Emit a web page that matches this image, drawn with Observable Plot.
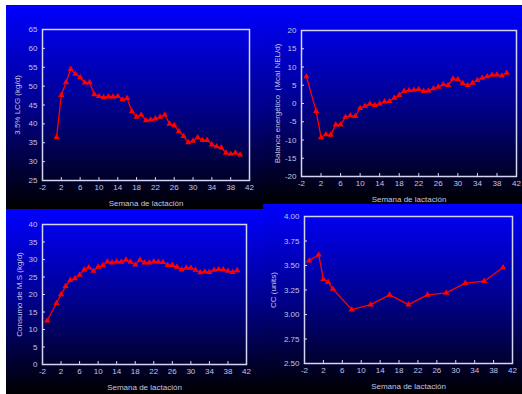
<!DOCTYPE html>
<html>
<head>
<meta charset="utf-8">
<script src="https://cdn.jsdelivr.net/npm/d3@7"></script>
<script src="https://cdn.jsdelivr.net/npm/@observablehq/plot@0.6"></script>
<style>
  body { margin: 0; background: #fff; }
  #wrap { position: relative; width: 522px; height: 394px; overflow: hidden; background: #fff; }
  .panel { position: absolute; }
</style>
</head>
<body>
<div id="wrap"></div>
<script>
// ---- Data ----
const xTicks = [-2, 2, 6, 10, 14, 18, 22, 26, 30, 34, 38, 42];

const lcgWeeks = [1,2,3,4,5,6,7,8,9,10,11,12,13,14,15,16,17,18,19,20,21,22,23,24,25,26,27,28,29,30,31,32,33,34,35,36,37,38,39,40];
const lcgValues = [36.5,47.6,51.0,54.5,53.2,52.3,50.9,51.0,47.8,47.3,47.0,47.2,47.2,47.3,46.4,46.8,43.3,41.8,42.4,40.9,41.1,41.4,41.8,42.4,40.0,39.6,38.0,36.7,35.1,35.5,36.4,35.7,35.7,34.5,34.0,33.7,32.3,32.0,32.3,31.8];
const lcgTicks = [25, 30, 35, 40, 45, 50, 55, 60, 65];

const balWeeks = [-1,1,2,3,4,5,6,7,8,9,10,11,12,13,14,15,16,17,18,19,20,21,22,23,24,25,26,27,28,29,30,31,32,33,34,35,36,37,38,39,40];
const balValues = [7.4,-2.1,-9.3,-8.5,-8.6,-5.8,-5.8,-3.7,-3.3,-3.5,-1.3,-0.7,-0.1,-0.5,-0.1,0.5,0.6,1.5,2.3,3.4,3.6,3.7,3.9,3.4,3.5,4.1,4.5,5.2,5.0,6.8,6.6,5.5,5.0,5.6,6.4,7.0,7.4,7.8,7.9,7.6,8.4];
const balTicks = [-20, -15, -10, -5, 0, 5, 10, 15, 20];

const dmiWeeks = [-1,1,2,3,4,5,6,7,8,9,10,11,12,13,14,15,16,17,18,19,20,21,22,23,24,25,26,27,28,29,30,31,32,33,34,35,36,37,38,39,40];
const dmiValues = [12.5,17.5,20.0,22.4,24.1,24.6,25.6,27.1,27.7,26.7,27.9,28.3,29.4,29.1,29.4,29.3,29.9,29.3,28.5,29.9,29.1,29.1,29.4,29.3,29.2,28.4,28.4,27.9,27.1,27.6,27.6,27.0,26.3,26.5,26.4,27.0,27.2,27.1,26.7,26.4,26.9];
const dmiTicks = [0, 5, 10, 15, 20, 25, 30, 35, 40];

const ccWeeks = [-1, 1, 2, 3, 4, 8, 12, 16, 20, 24, 28, 32, 36, 40];
const ccValues = [3.55, 3.61, 3.36, 3.33, 3.26, 3.05, 3.10, 3.20, 3.10, 3.20, 3.22, 3.32, 3.34, 3.48];
const ccTicks = [2.50, 2.75, 3.00, 3.25, 3.50, 3.75, 4.00];

const xLabel = "Semana de lactación";

// ---- Panels ----
const frameColor = "#d4d4f4";
const textColor = "#c4c4e4";
const red = "#ff0000";
const intFmt = d => String(d);
const ccFmt = d => d.toFixed(2);

function panel({left, top, width, height, m, weeks, values, yDomain, yTicks, yLabel, yFmt, yLabOff, xLabOff}) {
  const data = weeks.map((w, i) => ({w, v: values[i]}));
  const chart = Plot.plot({
    width, height,
    marginLeft: m[0], marginRight: m[1], marginTop: m[2], marginBottom: m[3],
    style: {
      background: "linear-gradient(to bottom, #0000ff 0%, #00008c 50%, #000000 100%)",
      color: textColor,
      fontFamily: "'Liberation Sans', Arial, sans-serif",
      fontSize: "8px"
    },
    x: {domain: [-2, 42]},
    y: {domain: yDomain},
    marks: [
      Plot.axisX({ticks: xTicks, tickSize: -3, tickPadding: 7, stroke: frameColor, tickFormat: intFmt,
        label: xLabel, labelAnchor: "center", labelArrow: "none", labelOffset: xLabOff, fontSize: 8}),
      Plot.axisY({ticks: yTicks, tickSize: -3, tickPadding: 8, stroke: frameColor, tickFormat: yFmt,
        label: yLabel, labelAnchor: "center", labelArrow: "none", labelOffset: yLabOff, fontSize: 8}),
      Plot.frame({stroke: frameColor, strokeWidth: 1.5}),
      Plot.line(data, {x: "w", y: "v", stroke: red, strokeWidth: 1.3}),
      Plot.dot(data, {x: "w", y: "v", symbol: "triangle", r: 2.3, fill: red, stroke: "none"})
    ]
  });
  const div = document.createElement("div");
  div.className = "panel";
  div.style.left = left + "px";
  div.style.top = top + "px";
  div.appendChild(chart);
  document.getElementById("wrap").appendChild(div);
}

panel({left: 6, top: 5, width: 257, height: 204, m: [36, 14, 24, 29],
  weeks: lcgWeeks, values: lcgValues, yDomain: [25, 65], yTicks: lcgTicks,
  yLabel: "3.5% LCG (kg/d)", yFmt: intFmt, yLabOff: 28, xLabOff: 25});

panel({left: 263, top: 5, width: 259, height: 199, m: [38, 6, 25, 28],
  weeks: balWeeks, values: balValues, yDomain: [-20, 20], yTicks: balTicks,
  yLabel: "Balance energético  (Mcal NEL/d)", yFmt: intFmt, yLabOff: 27, xLabOff: 25});

panel({left: 6, top: 209, width: 257, height: 185, m: [36, 17, 15, 30],
  weeks: dmiWeeks, values: dmiValues, yDomain: [0, 40], yTicks: dmiTicks,
  yLabel: "Consumo de M.S (kg/d)", yFmt: intFmt, yLabOff: 26, xLabOff: 25});

panel({left: 263, top: 204, width: 259, height: 190, m: [41, 10, 12, 31],
  weeks: ccWeeks, values: ccValues, yDomain: [2.5, 4.0], yTicks: ccTicks,
  yLabel: "CC (units)", yFmt: ccFmt, yLabOff: 34, xLabOff: 25});
</script>
</body>
</html>
